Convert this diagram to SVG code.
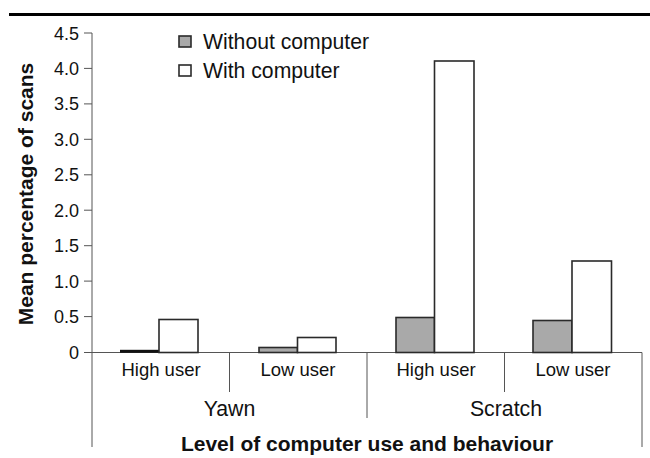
<svg xmlns="http://www.w3.org/2000/svg" width="650" height="458" viewBox="0 0 650 458">
<style>
text{font-family:"Liberation Sans",Arial,sans-serif;fill:#111}
.tick{font-size:18px;text-anchor:end}
.cat{font-size:18.5px;text-anchor:middle}
.grp{font-size:21.3px;text-anchor:middle}
.title{font-size:21px;font-weight:bold;text-anchor:middle}
.leg{font-size:21.2px}
.ax{stroke:#555;stroke-width:1;fill:none}
.b0{fill:#a9a9a9;stroke:#2a2a2a;stroke-width:1.6}
.b1{fill:#fff;stroke:#2a2a2a;stroke-width:1.6}
</style>
<rect width="650" height="458" fill="#fff"/>
<line x1="9" y1="14.5" x2="650" y2="14.5" stroke="#000" stroke-width="3"/>
<g id="axes">
<line class="ax" x1="92" y1="33" x2="92" y2="447"/>
<line class="ax" x1="84" y1="352.5" x2="642" y2="352.5"/>
<line class="ax" x1="84" y1="33" x2="92" y2="33"/>
<line class="ax" x1="84" y1="68.4" x2="92" y2="68.4"/>
<line class="ax" x1="84" y1="103.9" x2="92" y2="103.9"/>
<line class="ax" x1="84" y1="139.3" x2="92" y2="139.3"/>
<line class="ax" x1="84" y1="174.8" x2="92" y2="174.8"/>
<line class="ax" x1="84" y1="210.2" x2="92" y2="210.2"/>
<line class="ax" x1="84" y1="245.7" x2="92" y2="245.7"/>
<line class="ax" x1="84" y1="281.1" x2="92" y2="281.1"/>
<line class="ax" x1="84" y1="316.6" x2="92" y2="316.6"/>
<line class="ax" x1="229.5" y1="352.5" x2="229.5" y2="392"/>
<line class="ax" x1="367" y1="352.5" x2="367" y2="418"/>
<line class="ax" x1="504.5" y1="352.5" x2="504.5" y2="392"/>
<line class="ax" x1="642" y1="352.5" x2="642" y2="447"/>
</g>
<g id="ticklabels">
<text class="tick" x="79" y="39.5">4.5</text>
<text class="tick" x="79" y="74.9">4.0</text>
<text class="tick" x="79" y="110.4">3.5</text>
<text class="tick" x="79" y="145.8">3.0</text>
<text class="tick" x="79" y="181.3">2.5</text>
<text class="tick" x="79" y="216.7">2.0</text>
<text class="tick" x="79" y="252.2">1.5</text>
<text class="tick" x="79" y="287.6">1.0</text>
<text class="tick" x="79" y="323.1">0.5</text>
<text class="tick" x="79" y="359">0</text>
</g>
<g id="bars">
<rect x="120" y="349.8" width="39" height="3" fill="#111"/>
<rect class="b1" x="159" y="319.5" width="39" height="33"/>
<rect class="b0" x="259" y="347.5" width="38.5" height="5"/>
<rect class="b1" x="297.5" y="337.5" width="38.5" height="15"/>
<rect class="b0" x="396" y="317.5" width="38.5" height="35"/>
<rect class="b1" x="434.5" y="61" width="39.5" height="291.5"/>
<rect class="b0" x="533" y="320.5" width="39" height="32"/>
<rect class="b1" x="572" y="261" width="39.5" height="91.5"/>
</g>
<g id="legend">
<rect class="b0" x="179" y="36" width="12" height="11" stroke-width="1.2"/>
<text class="leg" x="203" y="48.5">Without computer</text>
<rect class="b1" x="179" y="65" width="12" height="11" stroke-width="1.2"/>
<text class="leg" x="203" y="77.5">With computer</text>
</g>
<g id="categories">
<text class="cat" x="161" y="376">High user</text>
<text class="cat" x="298" y="376">Low user</text>
<text class="cat" x="436" y="376">High user</text>
<text class="cat" x="573" y="376">Low user</text>
<text class="grp" x="229.5" y="416">Yawn</text>
<text class="grp" x="506" y="416">Scratch</text>
</g>
<text class="title" x="367" y="450.5">Level of computer use and behaviour</text>
<text class="title" transform="translate(33,194) rotate(-90)">Mean percentage of scans</text>
</svg>
